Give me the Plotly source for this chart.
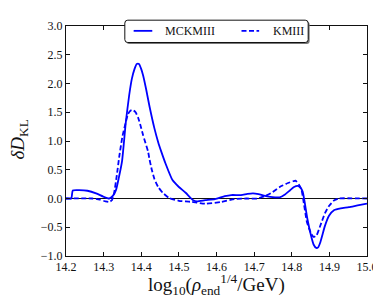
import plotly.graph_objects as go

# MCKMIII (solid)
x_mck = [14.200, 14.214, 14.218, 14.235, 14.257, 14.280, 14.300, 14.315, 14.325, 14.333,
         14.340, 14.349, 14.359, 14.368, 14.375, 14.382, 14.388, 14.394, 14.400, 14.405,
         14.413, 14.422, 14.435, 14.445, 14.453, 14.465, 14.483, 14.500, 14.518, 14.538,
         14.548, 14.570, 14.596, 14.622, 14.639, 14.665, 14.682, 14.697, 14.712, 14.726,
         14.743, 14.768, 14.782, 14.795, 14.806, 14.816, 14.823, 14.829, 14.834, 14.842,
         14.851, 14.858, 14.865, 14.870, 14.876, 14.882, 14.888, 14.899, 14.913, 14.930,
         14.952, 14.975, 15.000]
y_mck = [0.0, 0.0, 0.14, 0.145, 0.135, 0.09, 0.03, 0.0, 0.05, 0.15,
         0.35, 0.65, 1.33, 1.80, 2.08, 2.25, 2.34, 2.34, 2.25, 2.14,
         1.90, 1.60, 1.22, 0.98, 0.82, 0.60, 0.32, 0.20, 0.10, -0.03,
         -0.05, -0.03, -0.01, 0.04, 0.06, 0.06, 0.08, 0.09, 0.075, 0.05,
         0.03, 0.02, 0.07, 0.14, 0.20, 0.22, 0.19, 0.12, -0.05, -0.37,
         -0.64, -0.80, -0.86, -0.85, -0.76, -0.62, -0.48, -0.30, -0.20, -0.17,
         -0.15, -0.12, -0.09]

# KMIII (dashed)
x_km = [14.200, 14.270, 14.290, 14.305, 14.315, 14.322, 14.328, 14.335, 14.342, 14.350,
        14.356, 14.365, 14.372, 14.378, 14.385, 14.392, 14.398, 14.405, 14.418, 14.422,
        14.428, 14.435, 14.445, 14.457, 14.474, 14.500, 14.518, 14.535, 14.570, 14.613,
        14.648, 14.680, 14.708, 14.728, 14.744, 14.768, 14.777, 14.790, 14.804, 14.810,
        14.820, 14.826, 14.832, 14.840, 14.846, 14.852, 14.859, 14.866, 14.876, 14.888,
        14.899, 14.913, 14.925, 15.000]
y_km = [0.0, 0.0, -0.02, -0.05, -0.06, -0.03, 0.10, 0.40, 0.75, 1.08,
        1.25, 1.47, 1.53, 1.54, 1.50, 1.40, 1.27, 1.10, 0.82, 0.68,
        0.50, 0.34, 0.20, 0.10, 0.01, -0.04, -0.05, -0.06, -0.09, -0.06,
        -0.01, 0.0, 0.0, 0.04, 0.09, 0.20, 0.23, 0.27, 0.30, 0.31,
        0.23, 0.15, -0.08, -0.40, -0.52, -0.62, -0.67, -0.64, -0.47, -0.26,
        -0.13, -0.03, 0.0, 0.0]

x_ticks = [14.2, 14.3, 14.4, 14.5, 14.6, 14.7, 14.8, 14.9, 15.0]
y_ticks = [-1.0, -0.5, 0.0, 0.5, 1.0, 1.5, 2.0, 2.5, 3.0]
labels = ["MCKMIII", "KMIII"]

BLUE = "#0000ff"
FONT = "Liberation Serif"
INK = "#111"

fig = go.Figure()
fig.add_trace(go.Scatter(x=x_mck, y=y_mck, mode="lines", name=labels[0],
                         line=dict(color=BLUE, width=1.8, shape="spline", smoothing=0.5)))
fig.add_trace(go.Scatter(x=x_km, y=y_km, mode="lines", name=labels[1],
                         line=dict(color=BLUE, width=1.8, dash="5px,2.5px", shape="spline", smoothing=0.5)))

axis_common = dict(showgrid=False, showline=True, linecolor=INK, linewidth=1,
                   mirror="ticks", ticks="inside", ticklen=4, tickcolor=INK,
                   tickfont=dict(family=FONT, size=12, color=INK))

fig.update_xaxes(range=[14.2, 15.0], tickvals=x_ticks,
                 ticktext=[f"{v:.1f}" for v in x_ticks], zeroline=False, **axis_common)
fig.update_yaxes(range=[-1.0, 3.0], tickvals=y_ticks,
                 ticktext=[f"{v:.1f}".replace("-", "\u2212") for v in y_ticks],
                 zeroline=True, zerolinecolor=INK, zerolinewidth=1, **axis_common)

# Legend drawn manually (rounded box with shadow)
def rrect(x0, y0, x1, y1, rx, ry):
    return (f"M{x0+rx},{y0} L{x1-rx},{y0} Q{x1},{y0} {x1},{y0+ry} L{x1},{y1-ry} "
            f"Q{x1},{y1} {x1-rx},{y1} L{x0+rx},{y1} Q{x0},{y1} {x0},{y1-ry} "
            f"L{x0},{y0+ry} Q{x0},{y0} {x0+rx},{y0} Z")

W, H = 307.0, 237.0
def px(x): return (x - 58) / W
def py(y): return (248 - y) / H

shapes = [
    dict(type="path", xref="paper", yref="paper", layer="above",
         path=rrect(px(119.5), py(29.5), px(306.5), py(6.5), 3 / W, 3 / H),
         fillcolor="#777", line=dict(width=0)),
    dict(type="path", xref="paper", yref="paper", layer="above",
         path=rrect(px(118), py(28), px(305), py(5), 3 / W, 3 / H),
         fillcolor="white", line=dict(color=INK, width=1)),
    dict(type="line", xref="paper", yref="paper", layer="above",
         x0=px(127), x1=px(146), y0=py(16), y1=py(16), line=dict(color=BLUE, width=1.8)),
    dict(type="line", xref="paper", yref="paper", layer="above",
         x0=px(237), x1=px(255), y0=py(16), y1=py(16),
         line=dict(color=BLUE, width=1.8, dash="5px,2.5px")),
]
annotations = [
    dict(text=labels[0], xref="paper", yref="paper", x=px(157), y=py(16.5),
         xanchor="left", yanchor="middle", showarrow=False,
         font=dict(family=FONT, size=12, color=INK)),
    dict(text=labels[1], xref="paper", yref="paper", x=px(267), y=py(16.5),
         xanchor="left", yanchor="middle", showarrow=False,
         font=dict(family=FONT, size=12, color=INK)),
    dict(text="log<sub>10</sub>(<i>ρ</i><sub>end</sub><sup>1/4</sup>/GeV)",
         xref="paper", yref="paper", x=px(212), y=py(277),
         xanchor="center", yanchor="middle", showarrow=False,
         font=dict(family=FONT, size=19, color=INK)),
    dict(text="<i>δD</i><sub>KL</sub>", textangle=-90,
         xref="paper", yref="paper", x=px(10), y=py(128),
         xanchor="center", yanchor="middle", showarrow=False,
         font=dict(family=FONT, size=19, color=INK)),
]

fig.update_layout(width=381, height=301, showlegend=False,
                  margin=dict(l=58, r=16, t=11, b=53),
                  paper_bgcolor="white", plot_bgcolor="white",
                  shapes=shapes, annotations=annotations)

fig.write_html("out.html")
